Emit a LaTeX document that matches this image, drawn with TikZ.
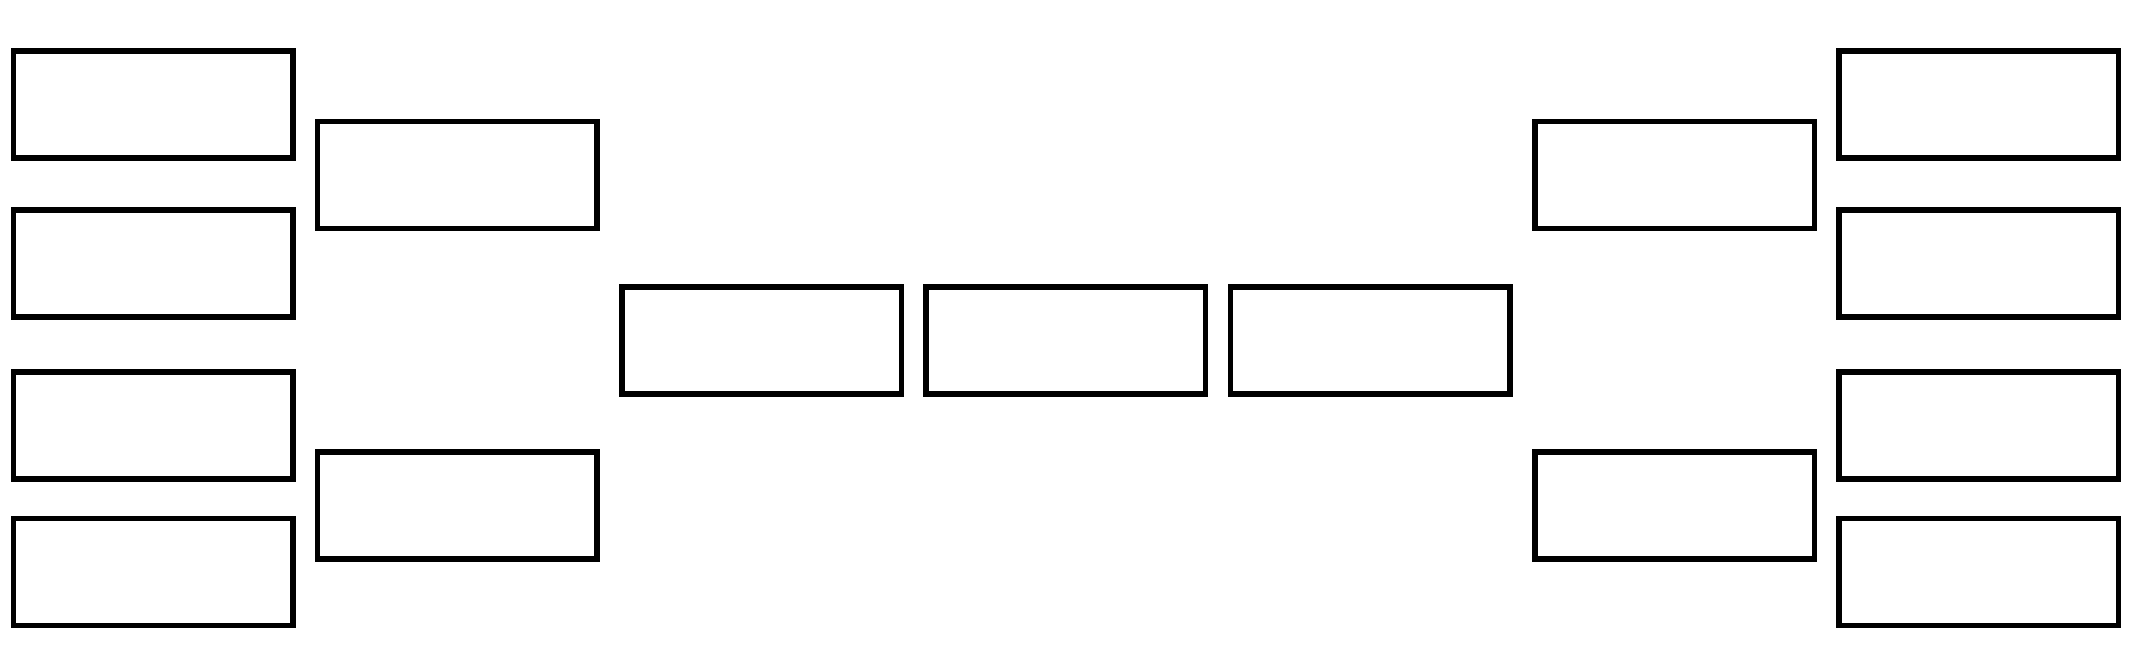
\documentclass[tikz,border=0pt]{standalone}
\begin{document}
\begin{tikzpicture}[x=1pt,y=-1pt,
  slot/.style={draw=black,line width=5.5pt,fill=white,inner sep=0pt,
    minimum width=279.5pt,minimum height=107pt}]
\useasboundingbox[fill=white] (0,0) rectangle (2134,663);
% left first round
\node[slot] (l1) at (153,104.5) {};
\node[slot] (l2) at (153,263.4) {};
\node[slot] (l3) at (153,425.3) {};
\node[slot] (l4) at (153,571.9) {};
% left second round
\node[slot] (l5) at (457.3,174.8) {};
\node[slot] (l6) at (457.3,505.5) {};
% centre
\node[slot] (c1) at (761.6,340.3) {};
\node[slot] (c2) at (1065.9,340.3) {};
\node[slot] (c3) at (1370.2,340.3) {};
% right second round
\node[slot] (r5) at (1674.5,174.8) {};
\node[slot] (r6) at (1674.5,505.5) {};
% right first round
\node[slot] (r1) at (1978.8,104.5) {};
\node[slot] (r2) at (1978.8,263.4) {};
\node[slot] (r3) at (1978.8,425.3) {};
\node[slot] (r4) at (1978.8,571.9) {};
\end{tikzpicture}
\end{document}
